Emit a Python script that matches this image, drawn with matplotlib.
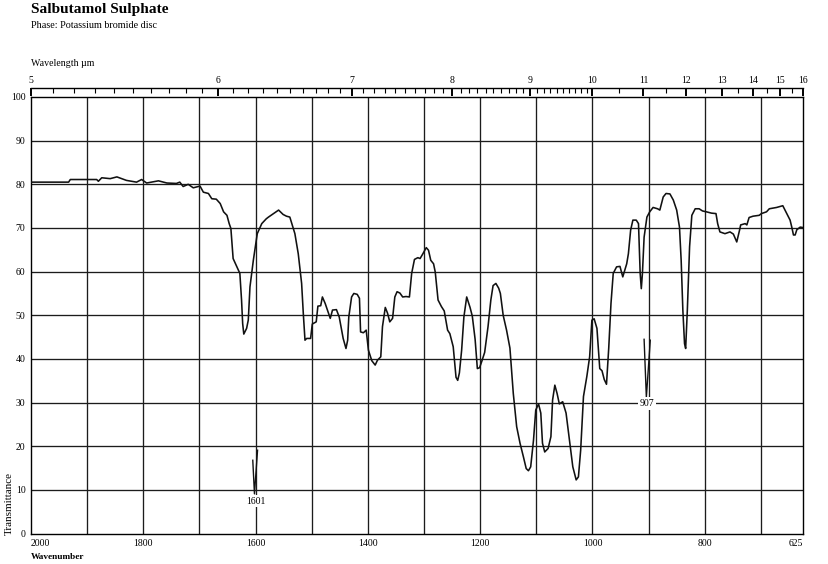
import numpy as np
import matplotlib.pyplot as plt
from matplotlib.ticker import FixedLocator

plt.rcParams['font.family'] = ['Liberation Serif', 'DejaVu Serif']

# spectrum (wavenumber in cm-1, % transmittance)
wavenumber = [2000, 1933, 1930, 1883, 1880, 1874, 1859, 1847, 1830, 1812, 1803, 1794,
              1773, 1758, 1741, 1735, 1729, 1720, 1711, 1699, 1693, 1684, 1678, 1670,
              1663, 1657, 1651, 1647, 1644, 1640, 1632, 1628, 1625, 1623, 1621, 1616,
              1613, 1610, 1604, 1597, 1589, 1581, 1577, 1568, 1559, 1551, 1545, 1539,
              1534, 1530, 1524, 1518, 1515, 1512, 1509, 1502, 1499, 1492, 1489, 1484,
              1481, 1476, 1472, 1467, 1463, 1456, 1451, 1444, 1439, 1436, 1434, 1429,
              1425, 1419, 1415, 1413, 1408, 1403, 1399, 1393, 1387, 1383, 1377, 1374,
              1369, 1365, 1361, 1356, 1352, 1348, 1343, 1338, 1332, 1326, 1322, 1317,
              1311, 1307, 1302, 1296, 1292, 1288, 1283, 1280, 1275, 1269, 1264, 1258,
              1254, 1248, 1243, 1240, 1237, 1233, 1229, 1224, 1218, 1214, 1209, 1205,
              1201, 1197, 1192, 1186, 1181, 1177, 1172, 1167, 1164, 1159, 1153, 1147,
              1141, 1135, 1129, 1123, 1118, 1114, 1110, 1105, 1101, 1096, 1092, 1089,
              1085, 1079, 1074, 1071, 1067, 1063, 1059, 1053, 1047, 1041, 1035, 1029,
              1025, 1021, 1016, 1010, 1005, 1001, 997, 992, 987, 983, 979, 975, 971,
              967, 963, 957, 951, 946, 939, 936, 932, 928, 922, 918, 915, 913, 911,
              908, 903, 898, 892, 884, 880, 874, 869, 862, 856, 850, 845, 842, 839,
              836, 834, 831, 827, 823, 817, 810, 804, 797, 788, 780, 777, 773, 764,
              755, 749, 743, 738, 736, 728, 725, 721, 714, 703, 699, 690, 685, 672,
              661, 654, 648, 645, 642, 639, 636, 630, 625]
transmittance = [80.5, 80.5, 81.1, 81.1, 80.7, 81.5, 81.3, 81.7, 80.9, 80.5, 81.1, 80.3,
                 80.8, 80.3, 80.2, 80.5, 79.5, 80.0, 79.2, 79.6, 78.2, 77.9, 76.7, 76.6,
                 75.6, 73.7, 72.9, 71.0, 69.9, 63.0, 60.7, 59.6, 53.5, 48.1, 45.7, 47.0,
                 48.9, 56.5, 62.6, 68.7, 71.0, 72.1, 72.5, 73.3, 74.1, 73.1, 72.7, 72.5,
                 70.4, 68.7, 64.1, 57.3, 50.4, 44.3, 44.7, 44.7, 48.0, 48.5, 52.1, 52.2,
                 54.2, 52.7, 51.2, 49.3, 51.2, 51.3, 49.6, 44.7, 42.4, 44.3, 49.6, 54.2,
                 55.0, 54.8, 53.9, 46.2, 46.0, 46.6, 42.0, 39.6, 38.6, 39.7, 40.5, 47.4,
                 51.8, 50.5, 48.5, 49.3, 54.2, 55.4, 55.1, 54.2, 54.3, 54.2, 59.6, 62.8,
                 63.2, 63.0, 64.1, 65.5, 64.9, 62.6, 61.8, 59.9, 53.5, 52.0, 51.0, 46.6,
                 45.8, 42.8, 35.8, 35.1, 36.8, 42.0, 49.6, 54.2, 51.8, 49.8, 44.5, 37.8,
                 38.0, 39.5, 41.5, 47.4, 53.5, 56.8, 57.3, 56.2, 55.0, 50.0, 46.6, 42.5,
                 32.1, 24.5, 20.7, 17.6, 14.9, 14.4, 15.3, 21.4, 28.3, 29.7, 27.6, 20.7,
                 18.7, 19.5, 22.2, 30.6, 34.0, 32.1, 29.7, 30.2, 27.6, 21.4, 15.3, 12.3,
                 13.0, 19.1, 31.4, 36.0, 40.5, 48.9, 49.2, 47.0, 37.8, 37.3, 35.3, 34.2,
                 42.5, 52.7, 59.6, 61.1, 61.2, 58.8, 61.8, 64.1, 69.5, 71.8, 71.8, 71.0,
                 59.6, 56.1, 59.6, 67.9, 72.5, 73.7, 74.7, 74.4, 74.1, 77.1, 77.9, 77.8,
                 76.4, 74.1, 70.2, 62.6, 51.2, 43.5, 42.4, 51.2, 65.7, 72.9, 74.4, 74.4,
                 73.9, 73.7, 73.4, 73.3, 71.0, 69.1, 68.7, 69.1, 68.6, 66.8, 69.5, 70.7,
                 71.0, 70.7, 72.4, 72.7, 72.9, 73.3, 73.7, 74.4, 74.7, 75.1, 73.3, 71.8,
                 70.2, 68.4, 68.4, 69.6, 70.2, 70.1]

# principal peaks, drawn separately on the chart
band_1601_wn = [1605, 1602, 1596.5]
band_1601_t = [16.8, 9.1, 19.1]
band_907_wn = [908, 904, 897]
band_907_t = [44.5, 31.2, 44.3]

grid_wn = [1900, 1800, 1700, 1600, 1500, 1400, 1300, 1200, 1100, 1000, 900, 800, 700]
grid_t = [10, 20, 30, 40, 50, 60, 70, 80, 90]
wn_ticks = [2000, 1800, 1600, 1400, 1200, 1000, 800, 625]
t_ticks = [0, 10, 20, 30, 40, 50, 60, 70, 80, 90, 100]
um_major = [5, 6, 7, 8, 9, 10, 11, 12, 13, 14, 15, 16]
um_minor = [5 + i * 0.1 for i in range(50)] + [10 + i * 0.5 for i in range(13)]

W, H = 829, 564
fig = plt.figure(figsize=(W / 100, H / 100), dpi=100)
ax = fig.add_axes([31 / W, (H - 533.6) / H, 772 / W, 436.6 / H])
ax.set_xlim(2000, 625)
ax.set_ylim(0, 100)

for w in grid_wn:
    ax.axvline(w, color='#1c1c1c', lw=0.95, zorder=1)
for t in grid_t:
    ax.axhline(t, color='#1c1c1c', lw=0.95, zorder=1)

ax.plot(wavenumber, transmittance, color='#111111', lw=1.15, zorder=3)
ax.plot(band_1601_wn, band_1601_t, color='#111111', lw=1.0, zorder=3)
ax.plot(band_907_wn, band_907_t, color='#111111', lw=1.0, zorder=3)

ax.text(1599, 7.4, '1601', ha='center', va='center', fontsize=7, zorder=4,
        bbox=dict(fc='white', ec='none', pad=1.2))
ax.text(903, 29.8, '907', ha='center', va='center', fontsize=7, zorder=4,
        bbox=dict(fc='white', ec='none', pad=1.2))

ax.set_xticks(wn_ticks, labels=[str(v) for v in wn_ticks])
ax.set_yticks(t_ticks, labels=[str(v) for v in t_ticks])
ax.tick_params(length=0, labelsize=7, pad=4)
xl = ax.get_xticklabels()
xl[0].set_ha('left')
xl[-1].set_ha('right')
for s in ax.spines.values():
    s.set_linewidth(1.0)
    s.set_color('black')

# wavelength scale on top
sec = ax.secondary_xaxis(1 + 9 / 436.6,
                         functions=(lambda w: 1e4 / np.asarray(w, float),
                                    lambda u: 1e4 / np.asarray(u, float)))
sec.set_xticks(um_major, labels=[str(u) for u in um_major])
sec.xaxis.set_minor_locator(FixedLocator(um_minor))
sec.tick_params(which='major', direction='in', length=6, width=1.4, pad=2, labelsize=7)
sec.tick_params(which='minor', direction='in', length=3.6, width=0.8)
sec.spines['top'].set_linewidth(1.0)

fig.text(31 / W, 1 - 10 / H, 'Salbutamol Sulphate', fontsize=11.1, weight='bold', va='center')
fig.text(31 / W, 1 - 25 / H, 'Phase: Potassium bromide disc', fontsize=7.3, va='center')
fig.text(31 / W, 1 - 64 / H, 'Wavelength \u00b5m', fontsize=7.1, va='center')
fig.text(31 / W, 1 - 557 / H, 'Wavenumber', fontsize=6.7, weight='bold', va='center')
fig.text(9 / W, 1 - 535 / H, 'Transmittance', rotation=90, fontsize=8,
         ha='center', va='bottom')

fig.savefig('out.png', dpi=100)
